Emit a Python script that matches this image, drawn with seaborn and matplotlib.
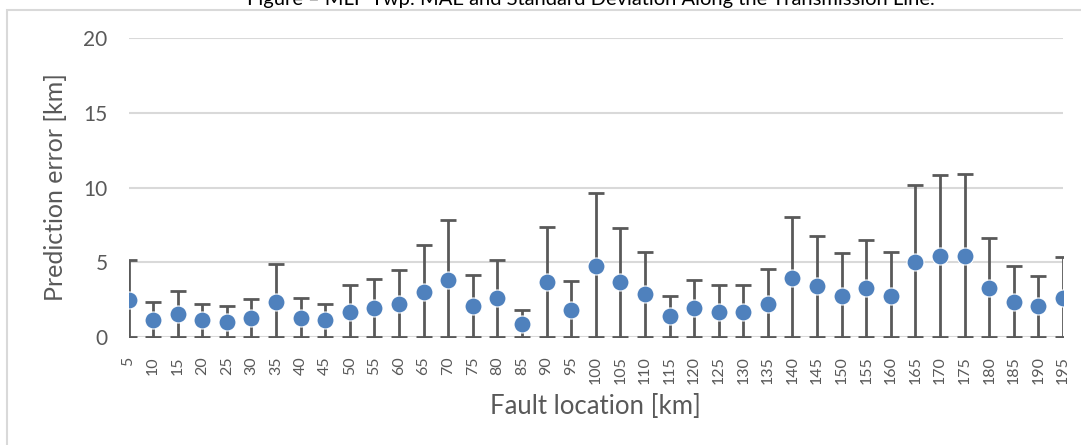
import numpy as np
import matplotlib
matplotlib.use("Agg")
import matplotlib.pyplot as plt
import seaborn as sns
from matplotlib.patches import Rectangle

# fault locations along the line [km]
locations = [5, 10, 15, 20, 25, 30, 35, 40, 45, 50, 55, 60, 65, 70, 75, 80, 85, 90, 95,
             100, 105, 110, 115, 120, 125, 130, 135, 140, 145, 150, 155, 160, 165, 170,
             175, 180, 185, 190, 195]
# mean absolute error [km]
mae = [2.48, 1.11, 1.53, 1.11, 0.99, 1.24, 2.32, 1.24, 1.11, 1.67, 1.94, 2.21, 3.00,
       3.83, 2.07, 2.61, 0.86, 3.67, 1.80, 4.78, 3.67, 2.88, 1.40, 1.94, 1.67, 1.67,
       2.21, 3.95, 3.43, 2.75, 3.29, 2.75, 5.03, 5.45, 5.45, 3.29, 2.34, 2.05, 2.61]
# standard deviation [km]
std = [2.66, 1.21, 1.58, 1.10, 1.08, 1.33, 2.55, 1.40, 1.08, 1.78, 1.96, 2.30, 3.15,
       3.99, 2.10, 2.57, 0.94, 3.67, 1.92, 4.88, 3.61, 2.82, 1.33, 1.87, 1.82, 1.80,
       2.34, 4.05, 3.31, 2.86, 3.20, 2.91, 5.11, 5.36, 5.43, 3.36, 2.39, 2.05, 2.73]

title = "Figure \u2013 MLP Twp: MAE and Standard Deviation Along the Transmission Line."

sns.set_style("white")
plt.rcParams['font.family'] = ['Lato', 'DejaVu Sans']

fig = plt.figure(figsize=(10.81, 4.45), dpi=100)
ax = fig.add_axes([128.5 / 1081, 1 - 337 / 445, (1063 - 128.5) / 1081, (337 - 38) / 445])

# chart frame
fig.patches.append(Rectangle((7 / 1081, -0.1), 1.2, 1 - 10 / 445 + 0.1,
                             transform=fig.transFigure, fill=False,
                             edgecolor='#d9d9d9', linewidth=1.5, zorder=0))

idx = np.arange(len(locations))
ax.errorbar(idx, mae, yerr=[mae, std], fmt='none', ecolor='#595959',
            elinewidth=2, capsize=5.5, capthick=2, zorder=2)
sns.scatterplot(x=idx, y=mae, ax=ax, s=150, color='#4f81bd', edgecolor='white',
                linewidth=0.8, zorder=3)

ax.set_xlim(0, len(locations) - 1)
ax.set_ylim(0, 20)
ax.set_yticks([0, 5, 10, 15, 20])
ax.set_xticks(idx)
ax.set_xticklabels([str(v) for v in locations], rotation=90)
ax.yaxis.grid(True, color='#d9d9d9', linewidth=1.5)
ax.set_axisbelow(True)
for s in ax.spines.values():
    s.set_visible(False)
ax.tick_params(axis='both', length=0, colors='#595959')
ax.tick_params(axis='y', labelsize=15, pad=15)
ax.tick_params(axis='x', labelsize=11.5, pad=14)
ax.set_xlabel("Fault location [km]", fontsize=18.5, color='#595959', labelpad=7)
ax.set_ylabel("Prediction error [km]", fontsize=18, color='#595959', labelpad=12)

fig.text(591 / 1081, 1 - 5 / 445, title, ha='center', va='baseline',
         fontsize=14.5, color='#000000')

fig.savefig("out.png", dpi=100)
